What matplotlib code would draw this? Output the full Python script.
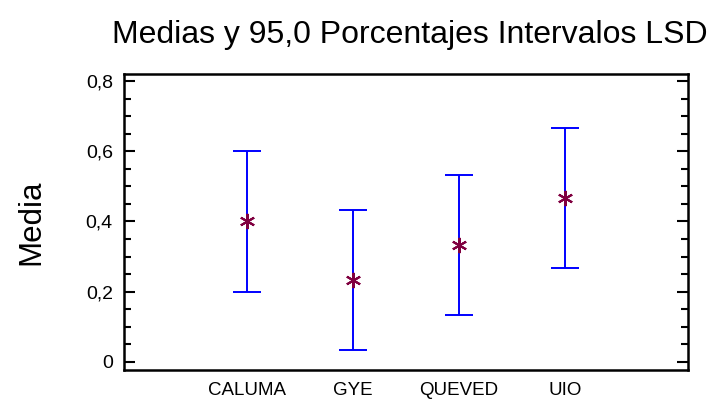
import matplotlib.pyplot as plt
import numpy as np
from matplotlib.ticker import MultipleLocator, FuncFormatter

plt.rcParams['font.family'] = ['Liberation Sans', 'DejaVu Sans']

# data
groups = ['CALUMA', 'GYE', 'QUEVED', 'UIO']
means = [0.400, 0.233, 0.333, 0.467]
lower = [0.200, 0.033, 0.133, 0.267]
upper = [0.600, 0.433, 0.533, 0.667]

x = np.arange(1, len(groups) + 1)
means = np.array(means)
err = [means - np.array(lower), np.array(upper) - means]

fig = plt.figure(figsize=(7.22, 4.04), dpi=100)
ax = fig.add_axes([0.1717, 0.0842, 0.7812, 0.7326])

ax.errorbar(x, means, yerr=err, fmt='none', ecolor='#0000ff',
            elinewidth=1.4, capsize=10, capthick=1.4)
ax.plot(x, means, linestyle='none', marker=(6, 2, 0), markersize=11,
        markeredgewidth=1.5, color='#800040')

ax.set_xlim(2.5 - 2.66, 2.5 + 2.66)
ax.set_ylim(-0.023, 0.82)
ax.set_xticks(x)
ax.set_xticklabels(groups, fontsize=13.5)
ax.tick_params(axis='x', length=0, pad=9)

ax.yaxis.set_major_locator(MultipleLocator(0.2))
ax.yaxis.set_minor_locator(MultipleLocator(0.05))
ax.yaxis.set_major_formatter(FuncFormatter(
    lambda v, p: '0' if abs(v) < 1e-9 else ('%.1f' % v).replace('.', ',')))
ax.tick_params(axis='y', which='both', direction='in', left=True, right=True,
               labelsize=14, width=1.5, pad=8)
ax.tick_params(axis='y', which='major', length=8)
ax.tick_params(axis='y', which='minor', length=5)

for s in ax.spines.values():
    s.set_linewidth(1.8)

fig.text(31 / 722, 1 - 222 / 404, 'Media', rotation=90, fontsize=22.5,
         ha='center', va='center')
fig.text(410 / 722, 1 - 35 / 404, 'Medias y 95,0 Porcentajes Intervalos LSD',
         fontsize=23, ha='center', va='center')

fig.savefig('out.png', dpi=100)
